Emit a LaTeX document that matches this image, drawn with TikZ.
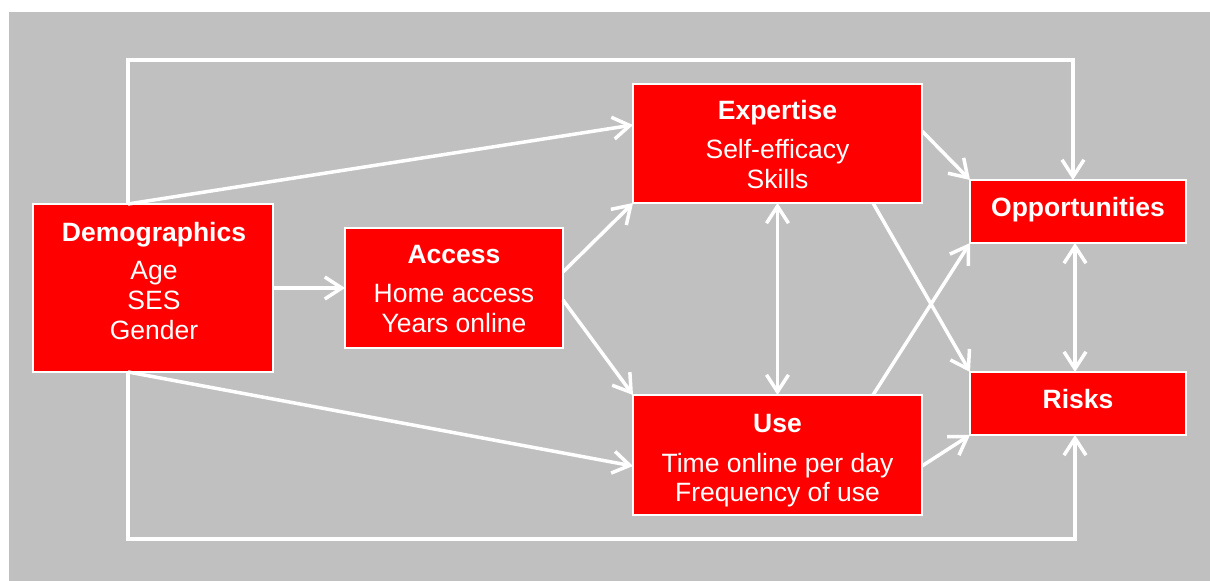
\documentclass[tikz,border=0pt]{standalone}
\usepackage{fontspec}
\setmainfont{Liberation Sans}
\usetikzlibrary{arrows.meta,calc}
\definecolor{bggray}{HTML}{C0C0C0}
\definecolor{boxred}{HTML}{FF0000}
\begin{document}
\begin{tikzpicture}[x=0.5pt,y=-0.5pt,
  box/.style={draw=white,line width=0.6pt,fill=boxred,inner sep=0pt,outer sep=0pt},
  lbl/.style={text=white,inner sep=0pt,anchor=base,font=\fontsize{13.25}{15}\selectfont},
  ttl/.style={lbl,font=\fontsize{13.25}{15}\selectfont\bfseries},
  conn/.style={draw=white,line width=1.75pt,line join=miter,>={Straight Barb[length=8.5pt,width=11pt]}}]
\useasboundingbox (0,0) rectangle (1210,581);
\fill[bggray] (9,12) rectangle (1210,581);

% boxes
\node[box,minimum width=120pt,minimum height=84pt]   (demo)   at (153,288)    {};
\node[box,minimum width=109pt,minimum height=60pt]   (access) at (454,288)    {};
\node[box,minimum width=144.5pt,minimum height=59.5pt] (expert) at (777.5,143.5) {};
\node[box,minimum width=144.5pt,minimum height=60pt] (use)    at (777.5,455)  {};
\node[box,minimum width=108pt,minimum height=31.5pt] (opp)    at (1078,211.5) {};
\node[box,minimum width=108pt,minimum height=31.5pt] (risk)   at (1078,403.5) {};

% texts
\node[ttl] (demoT) at (154,242) {Demographics};
\node[lbl] (demo1) at (154,280) {Age};
\node[lbl] (demo2) at (154,310) {SES};
\node[lbl] (demo3) at (154,340) {Gender};
\node[ttl] (accT) at (454,264) {Access};
\node[lbl] (acc1) at (454,303) {Home access};
\node[lbl] (acc2) at (454,333) {Years online};
\node[ttl] (expT) at (777.5,120) {Expertise};
\node[lbl] (exp1) at (777.5,159) {Self-efficacy};
\node[lbl] (exp2) at (777.5,189) {Skills};
\node[ttl] (useT) at (777.5,433) {Use};
\node[lbl] (use1) at (777.5,473) {Time online per day};
\node[lbl] (use2) at (777.5,502) {Frequency of use};
\node[ttl] (oppT) at (1078,217) {Opportunities};
\node[ttl] (riskT) at (1078,409) {Risks};

% connectors
\draw[conn,->] (demo.east) -- (access.west);
\draw[conn,->] ($(demo.north)+(-25,0)$) -- ($(expert.west)+(0,-18.5)$);
\draw[conn,->] ($(demo.south)+(-25,0)$) -- ($(use.west)+(0,11)$);
\draw[conn,->] ($(demo.north)+(-25,0)$) -- ++(0,-144) -| ($(opp.north)+(-5,0)$);
\draw[conn,->] ($(demo.south)+(-25,0)$) -- ++(0,167) -| ($(risk.south)+(-3,0)$);
\draw[conn,->] ($(access.east)+(0,-16)$) -- (expert.south west);
\draw[conn,->] ($(access.east)+(0,12)$) -- (use.north west);
\draw[conn,<->] (expert.south) -- (use.north);
\draw[conn,->] ($(expert.east)+(0,-12.5)$) -- (opp.north west);
\draw[conn,->] ($(expert.south)+(95.5,0)$) -- (risk.north west);
\draw[conn,->] ($(use.north)+(95.5,0)$) -- (opp.south west);
\draw[conn,->] ($(use.east)+(0,11)$) -- (risk.south west);
\draw[conn,<->] ($(opp.south)+(-3,0)$) -- ($(risk.north)+(-3,0)$);
\end{tikzpicture}
\end{document}
